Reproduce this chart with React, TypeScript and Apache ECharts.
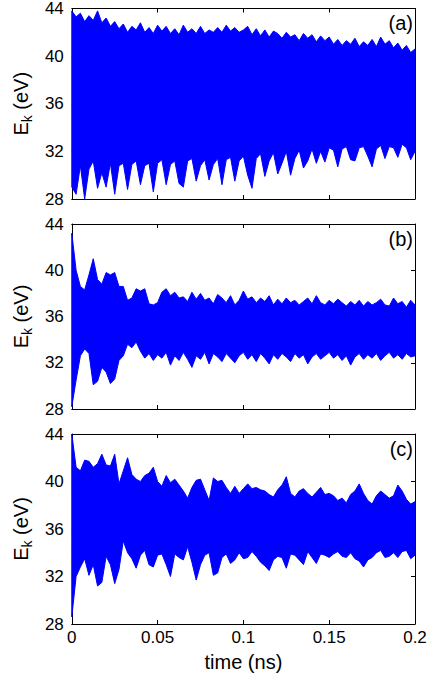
import React, { useEffect, useRef } from "react";
import * as echarts from "echarts";

// sample step of the envelopes (ns)
const DT = 0.0025;
const X_TICKS = ["0", "0.05", "0.1", "0.15", "0.2"];
const Y_TICKS = ["28", "32", "36", "40", "44"];
const PANEL_LABELS = ["(a)", "(b)", "(c)"];

// Panel (a): upper / lower envelope of E_k (eV)
const upperA = [
  43.8, 43.3, 43.6, 42.9, 43.4, 43.0, 43.8, 42.8, 43.2, 42.5, 42.9, 42.3, 42.7, 42.0, 42.5, 42.2,
  42.8, 42.0, 42.4, 41.9, 42.6, 42.1, 42.5, 41.9, 42.3, 41.8, 42.6, 42.0, 42.3, 41.9, 42.5, 41.9,
  42.2, 42.0, 42.4, 42.0, 42.6, 42.1, 42.4, 42.0, 42.2, 42.5, 41.8, 42.3, 41.7, 42.2, 41.6, 42.1,
  41.9, 41.5, 42.0, 41.6, 41.8, 41.3, 41.9, 41.5, 41.8, 41.2, 41.7, 41.3, 41.6, 41.0, 41.4, 40.9,
  41.3, 41.0, 41.5, 40.8, 41.2, 40.9, 41.4, 40.8, 41.6, 41.0, 41.3, 40.7, 41.1, 40.5, 40.9, 40.3,
  40.6,
];
const lowerA = [
  29.0, 28.4, 30.8, 28.0, 30.5, 31.2, 28.9, 30.2, 29.0, 31.0, 28.4, 30.8, 31.0, 28.8, 30.9, 31.2,
  29.2, 30.8, 31.0, 28.6, 31.0, 31.3, 29.2, 30.9, 31.2, 29.3, 29.0, 31.2, 31.4, 29.5, 30.8, 31.3,
  29.6, 30.9, 31.4, 29.2, 31.3, 31.5, 29.5, 31.2, 31.6, 30.0, 28.9, 31.4, 31.8, 29.9, 31.2, 31.9,
  30.1, 31.0, 32.0, 30.0, 31.4, 32.1, 30.6, 31.2, 32.2, 31.0, 32.0, 31.1, 32.3, 32.1, 30.7, 32.2,
  32.4, 31.3, 31.2, 32.3, 32.4, 31.6, 30.7, 32.2, 32.5, 31.4, 32.4, 32.3, 31.5, 32.6, 32.3, 31.3,
  32.0,
];

// Panel (b)
const upperB = [
  43.2, 40.0, 38.6, 38.3, 39.6, 41.0, 39.2, 38.8, 39.8, 39.6, 39.8, 38.6, 38.6, 37.4, 37.6, 38.4,
  38.2, 38.4, 37.1, 37.0, 37.2, 38.1, 38.4, 37.8, 38.1, 37.6, 37.7, 37.3, 38.1, 37.5, 38.0, 37.4,
  37.6, 37.1, 37.9, 37.6, 37.2, 37.8, 37.0, 37.4, 38.2, 37.5, 37.7, 37.2, 37.6, 37.3, 37.8, 37.0,
  37.5, 37.1, 37.6, 37.2, 37.4, 37.0, 37.3, 37.6, 37.1, 37.8, 37.2, 37.0, 37.4, 37.1, 37.5, 37.2,
  36.9, 37.3, 37.0, 37.4, 36.9, 37.3, 37.0, 37.2, 37.5, 37.0, 36.9, 37.6, 37.1, 37.3, 36.8, 37.4,
  37.0,
];
const lowerB = [
  28.2, 30.5, 32.6, 33.2, 32.8, 30.1, 30.4, 31.6, 31.2, 30.2, 30.6, 32.2, 32.6, 33.6, 33.3, 33.8,
  33.0, 32.4, 32.8, 32.2, 32.7, 32.4, 32.9, 31.8, 32.6, 32.2, 32.9, 32.3, 31.6, 32.6, 32.3, 32.9,
  31.9, 32.8, 32.5, 32.1, 32.8, 32.4, 32.0, 32.6, 32.9, 32.3, 32.7, 32.1, 32.8, 32.4, 31.9, 32.7,
  32.3, 32.8, 32.5, 32.1, 32.8, 32.4, 32.7, 31.9, 32.5, 32.8, 32.3, 32.6, 32.9, 32.4, 32.7, 32.2,
  32.6, 31.8, 32.5, 32.8, 32.3, 32.7, 32.4, 32.8, 32.2, 32.6, 32.9, 32.4, 32.7, 32.3, 32.8, 32.5,
  32.6,
];

// Panel (c)
const upperC = [
  44.0, 41.2, 40.9, 41.8, 41.7, 41.2, 41.5, 42.3, 41.4, 41.3, 42.3, 39.8, 40.9, 42.0, 40.6, 40.2,
  40.0, 40.5, 40.7, 41.2, 40.0, 39.6, 40.5, 39.9, 40.2, 39.7, 39.2, 38.6, 39.5, 40.1, 40.2, 39.3,
  38.4, 40.3, 40.0, 40.1, 39.5, 39.0, 39.6, 39.0, 39.4, 39.8, 39.4, 39.5, 39.3, 39.2, 38.9, 38.7,
  39.3, 39.7, 40.4, 39.0, 38.7, 39.2, 39.4, 39.0, 38.7, 39.1, 39.5, 38.9, 39.0, 38.8, 38.4, 38.6,
  38.2, 38.9, 39.2, 39.8, 39.0, 38.4, 38.1, 38.8, 39.2, 38.9, 38.6, 38.8, 39.7, 39.2, 38.5, 38.1,
  38.3,
];
const lowerC = [
  28.6, 32.0, 32.8, 33.5, 32.1, 33.0, 31.2, 31.5, 33.7, 33.0, 31.4, 32.6, 35.0, 34.0, 33.5, 32.7,
  33.8, 34.2, 33.0, 32.8, 33.8, 33.9, 33.0, 32.0, 33.9, 33.6, 33.4, 34.5, 33.2, 31.7, 33.0, 33.8,
  34.0, 32.1, 32.3, 33.6, 33.9, 33.1, 33.4, 34.0, 33.5, 33.6, 34.1, 33.7, 33.2, 32.9, 32.5, 33.4,
  33.7, 33.6, 32.7, 33.9, 33.8, 33.4, 33.0, 34.1, 33.6, 33.1, 33.9, 33.8, 33.6, 33.9, 34.1, 33.7,
  33.6, 34.0, 33.5, 33.3, 32.8, 33.4, 33.6, 34.0, 34.2, 33.6, 33.7, 34.0, 33.6, 34.1, 34.2, 33.5,
  33.8,
];

const PANELS = [
  { upper: upperA, lower: lowerA },
  { upper: upperB, lower: lowerB },
  { upper: upperC, lower: lowerC },
];

const BLUE = "#0000ff";
const FONT = "Liberation Sans, Arial, Helvetica, sans-serif";
const GRIDS = [
  { left: 71, top: 8, width: 344, height: 191 },
  { left: 71, top: 224, width: 344, height: 185 },
  { left: 71, top: 434, width: 344, height: 190 },
];

export default function App() {
  const ref = useRef<HTMLDivElement>(null);

  useEffect(() => {
    if (!ref.current) return;
    const chart = echarts.init(ref.current, null, { renderer: "svg" });

    const xAxis: any[] = [];
    const yAxis: any[] = [];
    const series: any[] = [];
    const graphic: any[] = [];

    const axisLine = { show: true, onZero: false, lineStyle: { color: "#000", width: 1 } };
    const axisTick = { show: true, inside: true, length: 4, lineStyle: { color: "#000", width: 1 } };

    PANELS.forEach((p, i) => {
      const isLast = i === PANELS.length - 1;
      xAxis.push({
        gridIndex: i,
        type: "value",
        position: "bottom",
        min: 0,
        max: 0.2,
        interval: 0.05,
        axisLine,
        axisTick,
        splitLine: { show: false },
        axisLabel: {
          show: isLast,
          fontFamily: FONT,
          fontSize: 17,
          color: "#000",
          margin: 5,
          formatter: (v: number) => X_TICKS[Math.round(v / 0.05)] ?? "",
        },
        name: isLast ? "time (ns)" : "",
        nameLocation: "middle",
        nameGap: 28,
        nameTextStyle: { fontFamily: FONT, fontSize: 20, color: "#000" },
      });
      xAxis.push({
        gridIndex: i,
        type: "value",
        position: "top",
        min: 0,
        max: 0.2,
        interval: 0.05,
        axisLine,
        axisTick,
        splitLine: { show: false },
        axisLabel: { show: false },
      });
      yAxis.push({
        gridIndex: i,
        type: "value",
        position: "left",
        min: 28,
        max: 44,
        interval: 4,
        axisLine,
        axisTick,
        splitLine: { show: false },
        axisLabel: {
          fontFamily: FONT,
          fontSize: 17,
          color: "#000",
          margin: 8,
          formatter: (v: number) => Y_TICKS[Math.round((v - 28) / 4)] ?? "",
        },
        name: "E{sub|k} (eV)",
        nameLocation: "middle",
        nameRotate: 90,
        nameGap: 33,
        nameTextStyle: {
          fontFamily: FONT,
          fontSize: 20,
          color: "#000",
          lineHeight: 26,
          rich: {
            sub: {
              fontFamily: FONT,
              fontSize: 14,
              lineHeight: 14,
              color: "#000",
              verticalAlign: "bottom",
            },
          },
        },
      });
      yAxis.push({
        gridIndex: i,
        type: "value",
        position: "right",
        min: 28,
        max: 44,
        interval: 4,
        axisLine,
        axisTick,
        splitLine: { show: false },
        axisLabel: { show: false },
      });

      const t = p.upper.map((_, k) => +(k * DT).toFixed(4));
      const upper = p.upper;
      const lower = p.lower;

      series.push({
        type: "custom",
        xAxisIndex: 2 * i,
        yAxisIndex: 2 * i,
        silent: true,
        clip: true,
        encode: { x: 0, y: 1 },
        data: [[t[0], lower[0]]],
        renderItem: (_params: any, api: any) => {
          const pts: number[][] = [];
          for (let k = 0; k < upper.length; k++) pts.push(api.coord([t[k], upper[k]]));
          for (let k = lower.length - 1; k >= 0; k--) pts.push(api.coord([t[k], lower[k]]));
          return {
            type: "polygon",
            shape: { points: pts },
            style: { fill: BLUE, stroke: BLUE, lineWidth: 1 },
          };
        },
      });

      const g = GRIDS[i];
      graphic.push({
        type: "text",
        right: 436 - (g.left + g.width) + 2,
        top: g.top + 5,
        z: 100,
        style: {
          text: PANEL_LABELS[i],
          fontFamily: FONT,
          fontSize: 20,
          fill: "#000",
        },
      });
    });

    chart.setOption({
      animation: false,
      backgroundColor: "#fff",
      grid: GRIDS.map((g) => ({ ...g, containLabel: false })),
      xAxis,
      yAxis,
      series,
      graphic,
    });

    return () => chart.dispose();
  }, []);

  return (
    <div
      ref={ref}
      style={{ position: "fixed", left: 0, top: 0, width: 436, height: 675 }}
    />
  );
}
